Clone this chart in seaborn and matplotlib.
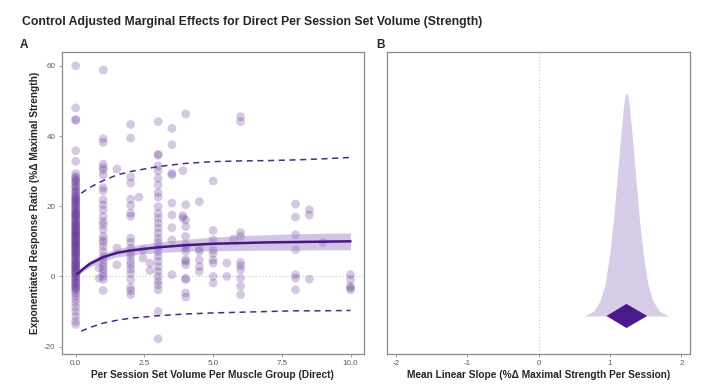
import numpy as np
import pandas as pd
import matplotlib
matplotlib.use("Agg")
import matplotlib.pyplot as plt
import seaborn as sns

sns.set_style("white")
plt.rcParams["font.family"] = ["Liberation Sans", "DejaVu Sans"]

# ---------------- data ----------------
vol_0 = [60, 48, 44.7, 44.5, 35.8, 32.8, 29.3, 28.5, 28, 27.5, 27, 26.8, 26, 25.5, 25.2, 24.5,
         24, 23.8, 23, 22.3, 22, 21.5, 21, 20.8, 20, 19.3, 19, 18.5, 18, 17.8, 17.5, 17, 16.3,
         16, 15.5, 15, 14.8, 14.5, 14, 13.3, 13, 12.5, 12, 11.8, 11.5, 11, 10.3, 10, 9.5, 9,
         8.8, 8.5, 8, 7.3, 7, 6.5, 6, 5.8, 5, 4.3, 4, 3.5, 3, 2.8, 2.5, 2, 1.3, 1, 0.5, 0,
         -0.2, -1, -1.5, -1.7, -2.5, -3, -3.2, -4, -4.7, -5.5, -6.5, -7.5, -8.8, -10, -11.4,
         -12.8, -13.7,
         15.2, 14.2, 13.6, 12.8, 12.2, 11.2, 10.6, 9.8, 9.2, 8.2, 7.6, 6.8, 16.6, 17.2, 18.2,
         19.6, 20.4, 21.8, 22.8, 6.2, 5.4, 4.6, 3.8, 3.2, 2.2, 1.6, 0.8, -0.6, -2.0, -3.6]
vol_1 = [58.8, 39.2, 38.2, 32, 31, 30.3, 28.9, 25.3, 24.4, 21.8, 20.4, 19, 17.1, 15.6, 14.7,
         13.3, 11.4, 10.4, 9.7, 8.5, 7.1, 5.7, 4.7, 3.8, 2.8, 1.9, 0.9, 0, -0.9, -4.0]
vol_0_85 = [2.4, -0.5]
vol_1_5 = [30.6, 8.1, 3.3]
vol_2 = [43.3, 39.4, 28.3, 26.6, 22, 20.2, 18, 17.1, 10.9, 9.7, 8.1, 6.6, 5.7, 4.3, 3.3, 2.1,
         0.9, -0.9, -3.1, -4.1, -5.2]
vol_2_3 = [22.6]
vol_2_45 = [7.6, 5.2]
vol_2_7 = [3.8, 1.7]
vol_3 = [44.1, 34.8, 34.5, 31.5, 30.1, 28, 26.1, 23.9, 22.6, 19.9, 18, 16.6, 15.2, 13.8, 12.3,
         10.9, 9.7, 8.5, 7.1, 5.7, 4.3, 2.8, 1.4, 0, -1.4, -2.4, -3.8, -10, -17.8]
vol_3_5 = [42.2, 37.5, 29.4, 28.9, 20.9, 17.5, 13.9, 10.4, 0.5]
vol_3_9 = [30.1, 17.3, 16.6]
vol_4 = [46.3, 20.4, 16.1, 14.2, 11.4, 9.0, 8.1, 7.1, 4.7, 4.3, 3.3, -0.5, -0.9, -4.7, -5.9]
vol_4_5 = [21.3, 7.8, 7.1, 4.7, 2.8, 1.4]
vol_5 = [27.2, 13.1, 10.4, 7.6, 6.6, 4.7, 3.8, 0, -1.9]
vol_5_5 = [3.8, 0]
vol_5_75 = [10.7]
vol_6 = [45.5, 44.1, 12.5, 11.4, 4, 3, 1.9, -0.5, -2.8, -5.2]
vol_8 = [20.6, 16.9, 11.9, 7.6, 0.5, -0.5, -3.8]
vol_8_5 = [19, 17.5, -0.8]
vol_9 = [9.7]
vol_10 = [0.5, -0.9, -2.8, -3.8, -3.3]

groups = {0.0: vol_0, 0.85: vol_0_85, 1.0: vol_1, 1.5: vol_1_5, 2.0: vol_2, 2.3: vol_2_3,
          2.45: vol_2_45, 2.7: vol_2_7, 3.0: vol_3, 3.5: vol_3_5, 3.9: vol_3_9, 4.0: vol_4,
          4.5: vol_4_5, 5.0: vol_5, 5.5: vol_5_5, 5.75: vol_5_75, 6.0: vol_6, 8.0: vol_8,
          8.5: vol_8_5, 9.0: vol_9, 10.0: vol_10}

fit_x = [0.05, 0.25, 0.5, 0.75, 1, 1.5, 2, 3, 4, 5, 6, 7, 8, 9, 10]
fit_y = [0.6, 2.0, 3.5, 4.5, 5.5, 6.7, 7.4, 8.3, 8.9, 9.3, 9.5, 9.7, 9.8, 9.9, 10.0]
ci_lo = [0.1, 1.3, 2.6, 3.5, 4.4, 5.5, 6.1, 6.8, 7.2, 7.3, 7.4, 7.5, 7.5, 7.6, 7.6]
ci_hi = [1.1, 2.7, 4.4, 5.5, 6.6, 7.9, 8.7, 9.8, 10.6, 11.2, 11.6, 11.9, 12.1, 12.3, 12.4]

pred_x = [0.2, 0.5, 1, 1.5, 2, 3, 4, 5, 6, 7, 8, 9, 10]
pred_hi = [23.7, 25.3, 27.3, 28.9, 29.9, 31.3, 32.2, 32.7, 32.9, 33.0, 33.2, 33.5, 33.9]
pred_lo = [-15.6, -14.6, -13.3, -12.5, -11.9, -11.2, -10.7, -10.4, -10.2, -10.0, -9.8, -9.8, -9.7]

slope_x = [0.64, 0.77, 0.86, 0.93, 1.00, 1.05, 1.09, 1.13, 1.165, 1.19, 1.21, 1.23,
           1.25, 1.27, 1.295, 1.33, 1.37, 1.41, 1.46, 1.53, 1.60, 1.69, 1.82]
slope_dens = [0.0, 0.022, 0.067, 0.141, 0.289, 0.437, 0.585, 0.733, 0.86, 0.94, 0.985, 1.0,
              0.985, 0.94, 0.86, 0.733, 0.585, 0.437, 0.289, 0.141, 0.067, 0.022, 0.0]
slope_est = 1.23
slope_lo = 0.95
slope_hi = 1.52

title = "Control Adjusted Marginal Effects for Direct Per Session Set Volume (Strength)"
xlab_a = "Per Session Set Volume Per Muscle Group (Direct)"
ylab_a = "Exponentiated Response Ratio (%\u0394 Maximal Strength)"
xlab_b = "Mean Linear Slope (%\u0394 Maximal Strength Per Session)"
xticks_a = [0.0, 2.5, 5.0, 7.5, 10.0]
yticks_a = [-20, 0, 20, 40, 60]
xticks_b = [-2, -1, 0, 1, 2]

# ---------------- build frames ----------------
pts = pd.DataFrame([(k, v) for k, vals in groups.items() for v in vals], columns=["x", "y"])
fit = pd.DataFrame({"x": fit_x, "y": fit_y, "lo": ci_lo, "hi": ci_hi})
pred = pd.DataFrame({"x": pred_x, "hi": pred_hi, "lo": pred_lo})
dens = pd.DataFrame({"x": slope_x, "d": slope_dens})

PT = "#6a3d9a"
LINE = "#471783"
RIB = "#9b7cc4"
DASH = "#4b2d7f"
DENS = "#d8cde8"
DIAM = "#4b1a8a"
GRID = "#c8c8c8"
SPINE = "#8c8c8c"
TICK = "#5a5a5a"

fig = plt.figure(figsize=(7.09, 3.92), dpi=100)
axA = fig.add_axes([0.087, 0.097, 0.4264, 0.770])
axB = fig.add_axes([0.5463, 0.097, 0.4269, 0.770])

# ---- panel A ----
axA.axhline(0, color=GRID, lw=0.8, ls=(0, (1, 2)), zorder=0)
sns.scatterplot(data=pts, x="x", y="y", ax=axA, color=PT, alpha=0.28, s=40,
                edgecolor="none", zorder=2, legend=False)
axA.fill_between(fit["x"], fit["lo"], fit["hi"], color=RIB, alpha=0.45, lw=0, zorder=3)
sns.lineplot(data=fit, x="x", y="y", ax=axA, color=LINE, lw=1.8, zorder=4)
sns.lineplot(data=pred, x="x", y="hi", ax=axA, color=DASH, lw=1.1, zorder=4,
             dashes=False, linestyle=(0, (4, 3)))
sns.lineplot(data=pred, x="x", y="lo", ax=axA, color=DASH, lw=1.1, zorder=4,
             dashes=False, linestyle=(0, (4, 3)))
axA.set_xlim(-0.51, 10.49)
axA.set_ylim(-22.1, 63.9)
axA.set_xticks(xticks_a)
axA.set_xticklabels([f"{t:.1f}" for t in xticks_a])
axA.set_yticks(yticks_a)
axA.set_yticklabels([str(t) for t in yticks_a])
axA.set_xlabel(xlab_a, fontsize=7.3, fontweight="bold", labelpad=2)
axA.set_ylabel(ylab_a, fontsize=7.3, fontweight="bold", labelpad=3)

# ---- panel B ----
axB.axvline(0, color=GRID, lw=0.8, ls=(0, (1, 2)), zorder=0)
axB.fill_between(dens["x"], 0, dens["d"], color=DENS, lw=0, zorder=2)
h = 0.054
axB.fill([slope_lo, slope_est, slope_hi, slope_est], [0, h, 0, -h], color=DIAM, lw=0, zorder=3)
axB.set_xlim(-2.12, 2.12)
axB.set_ylim(-0.17, 1.18)
axB.set_xticks(xticks_b)
axB.set_xticklabels([str(t) for t in xticks_b])
axB.set_yticks([])
axB.set_xlabel(xlab_b, fontsize=7.3, fontweight="bold", labelpad=2)
axB.set_ylabel("")

for ax in (axA, axB):
    for sp in ax.spines.values():
        sp.set_visible(True)
        sp.set_color(SPINE)
        sp.set_linewidth(0.9)
    ax.tick_params(axis="both", which="both", direction="out", length=2.5, width=0.6,
                   color=SPINE, labelsize=5.8, labelcolor=TICK, pad=2,
                   bottom=True, left=(ax is axA))

fig.text(22 / 709, 1 - 22 / 392, title, fontsize=8.8, fontweight="bold", va="center", ha="left")
fig.text(20 / 709, 1 - 45 / 392, "A", fontsize=8.5, fontweight="bold", va="center", ha="left")
fig.text(376 / 709, 1 - 45 / 392, "B", fontsize=8.5, fontweight="bold", va="center", ha="left")

fig.savefig("out.png", dpi=100)
